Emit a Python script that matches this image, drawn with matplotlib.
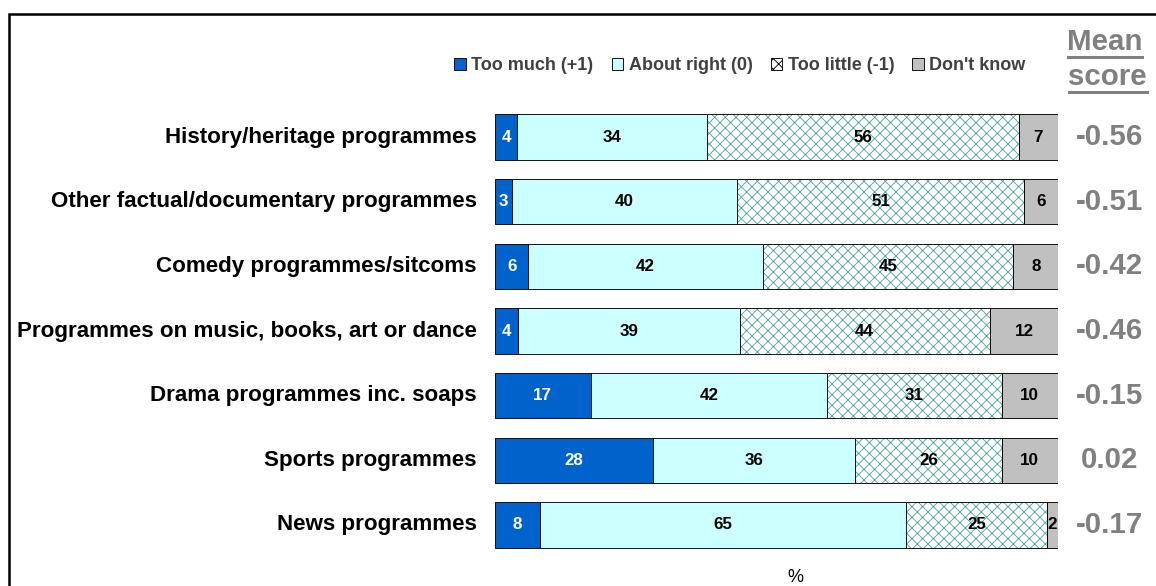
import numpy as np
import matplotlib.pyplot as plt
from matplotlib.patches import Rectangle, Patch

plt.rcParams['font.family'] = ['Liberation Sans', 'DejaVu Sans']
plt.rcParams['font.weight'] = 'bold'
plt.rcParams['hatch.linewidth'] = 1.0

DPI = 64
W, H = 1156, 586

def pt(px):
    # pixel height -> points at this dpi
    return px * 72.0 / DPI

programmes = [
    "History/heritage programmes",
    "Other factual/documentary programmes",
    "Comedy programmes/sitcoms",
    "Programmes on music, books, art or dance",
    "Drama programmes inc. soaps",
    "Sports programmes",
    "News programmes",
]
too_much = [4, 3, 6, 4, 17, 28, 8]
about_right = [34, 40, 42, 39, 42, 36, 65]
too_little = [56, 51, 45, 44, 31, 26, 25]
dont_know = [7, 6, 8, 12, 10, 10, 2]
mean_score = ["-0.56", "-0.51", "-0.42", "-0.46", "-0.15", "0.02", "-0.17"]

series = [too_much, about_right, too_little, dont_know]
names = ["Too much (+1)", "About right (0)", "Too little (-1)", "Don't know"]
fills = ["#0063CC", "#CCFFFF", "white", "#C0C0C0"]
hatch_col = "#4DA6A6"
text_cols = ["white", "black", "black", "black"]

fig = plt.figure(figsize=(W / DPI, H / DPI), dpi=DPI)

# axes placed in pixel terms: 0..100 spans x 495..1058, rows centred 137..525
x0, x1 = 495, 1058
y_top, y_bot = 104.7, 557.3
ax = fig.add_axes([x0 / W, 1 - y_bot / H, (x1 - x0) / W, (y_bot - y_top) / H])
ax.set_xlim(0, 100)
ax.set_ylim(6.5, -0.5)
ax.axis('off')

# 100% stacked: each row is scaled to its own total (rounding makes some 99/101)
data = np.array(series, dtype=float)
shares = data / data.sum(axis=0) * 100

y = np.arange(len(programmes))
left = np.zeros(len(programmes))
for k in range(len(series)):
    vals = shares[k]
    if k == 2:
        ax.barh(y, vals, left=left, height=0.7, color=fills[k],
                edgecolor=hatch_col, hatch='xx', linewidth=0)
        ax.barh(y, vals, left=left, height=0.7, fill=False,
                edgecolor='black', linewidth=1.0)
    else:
        ax.barh(y, vals, left=left, height=0.7, color=fills[k],
                edgecolor='black', linewidth=1.0)
    for i, v in enumerate(vals):
        ax.text(left[i] + v / 2, i, f"{series[k][i]}", ha='center', va='center',
                color=text_cols[k], fontsize=pt(17), fontweight='bold')
    left += vals

for i, name in enumerate(programmes):
    ax.text(-3.2, i, name, ha='right', va='center', fontsize=pt(22.4),
            fontweight='bold', color='black')
    ax.text(109.1, i, mean_score[i], ha='center', va='center',
            fontsize=pt(29.5), fontweight='bold', color='#808080')

# mean score header
fig.text(1105 / W, 1 - 42 / H, "Mean", ha='center', va='center',
         fontsize=pt(29.5), fontweight='bold', color='#808080')
fig.text(1107 / W, 1 - 77 / H, "score", ha='center', va='center',
         fontsize=pt(29.5), fontweight='bold', color='#808080')
fig.add_artist(plt.Line2D([1068 / W, 1142 / W], [1 - 57 / H, 1 - 57 / H],
                          color='#808080', linewidth=pt(3)))
fig.add_artist(plt.Line2D([1069 / W, 1147 / W], [1 - 92 / H, 1 - 92 / H],
                          color='#808080', linewidth=pt(3)))

handles = []
for k in range(4):
    if k == 2:
        handles.append(Patch(facecolor='white', edgecolor='black',
                             hatch='xx', linewidth=1.0))
    else:
        handles.append(Patch(facecolor=fills[k], edgecolor='black',
                             linewidth=1.0))
fig.legend(handles, names, loc='center', bbox_to_anchor=(740 / W, 1 - 66 / H),
           ncol=4, frameon=False, prop={'size': pt(18), 'weight': 'bold'},
           handlelength=0.65, handleheight=0.65, handletextpad=0.3,
           columnspacing=1.0, labelcolor='#404040')

fig.text(795 / W, 1 - 577 / H, "%", ha='center', va='center',
         fontsize=pt(18), fontweight='normal')

# outer frame, open at right and bottom
fig.add_artist(Rectangle((8.5 / W, -0.1), 1.2, 1 - 13.5 / H + 0.1,
                         transform=fig.transFigure, fill=False,
                         edgecolor='black', linewidth=pt(2.5)))

fig.savefig("out.png", dpi=DPI)
